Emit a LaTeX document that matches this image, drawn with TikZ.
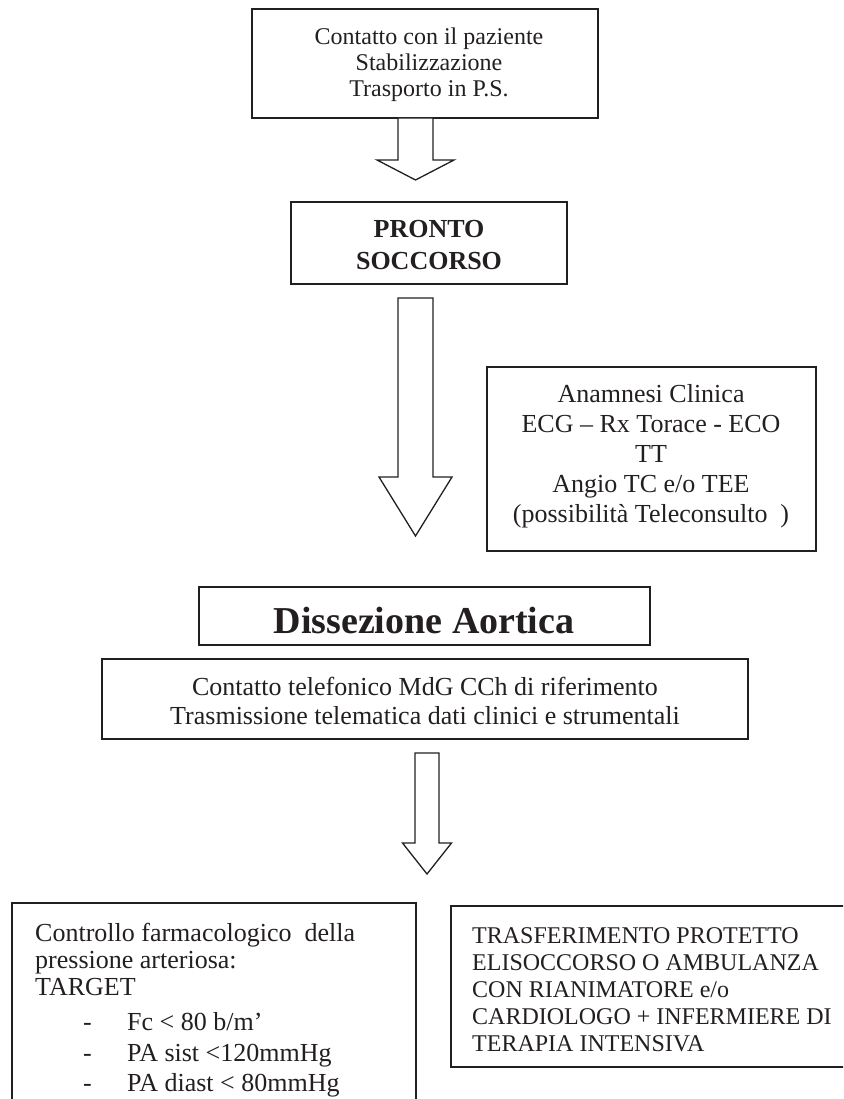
\documentclass[tikz,border=0pt]{standalone}
\usepackage{fontspec}
\setmainfont{Liberation Serif}
\definecolor{ink}{HTML}{231F20}
\newcommand\blockarrow[5]{%
  \draw[barrow] (#1) ++(-#2,0) -- ++(0,#3) -- ++(-#4,0) -- ++({#2+#4},#5) -- ++({#2+#4},-#5) -- ++(-#4,0) -- ++(0,-#3) -- cycle;}
\begin{document}
\begin{tikzpicture}[x=1pt,y=-1pt,
  box/.style={draw=ink, line width=1.8pt, inner sep=0pt, rectangle},
  txt/.style={text=ink, inner sep=0pt, align=center},
  ltxt/.style={text=ink, inner sep=0pt, anchor=base west},
  barrow/.style={draw=ink, line width=1.3pt, line join=miter, fill=white}]
\useasboundingbox (0,0) rectangle (843,1099);
\clip (0,0) rectangle (843,1099);

% boxes
\node[box, minimum width=346pt, minimum height=109pt] (b1) at (425,63.5) {};
\node[txt, font=\fontsize{24}{26}\selectfont] (t1) at (429,65) {Contatto con il paziente\\Stabilizzazione\\Trasporto in P.S.};

\node[box, minimum width=276pt, minimum height=82pt] (b2) at (429,243) {};
\node[txt, font=\fontsize{26}{32}\bfseries] (t2) at (429,245) {PRONTO\\SOCCORSO};

\node[box, minimum width=329pt, minimum height=184pt] (b3) at (651.5,459) {};
\node[txt, font=\fontsize{26}{30}\selectfont] (t3) at (651,456) {Anamnesi Clinica\\ECG – Rx Torace - ECO\\TT\\Angio TC e/o TEE\\(possibilità Teleconsulto~ )};

\node[box, minimum width=451pt, minimum height=58pt] (b4) at (424.5,616) {};
\node[txt, font=\fontsize{38}{44}\bfseries] (t4) at (424,620) {Dissezione Aortica};

\node[box, minimum width=646pt, minimum height=80pt] (b5) at (425,699) {};
\node[txt, font=\fontsize{26}{29}\selectfont] (t5) at (425,701) {Contatto telefonico MdG CCh di riferimento\\Trasmissione telematica dati clinici e strumentali};

\node[box, minimum width=404pt, minimum height=217pt] (b6) at (214,1011.5) {};
\begin{scope}[every node/.style={ltxt, font=\fontsize{26}{29}\selectfont}]
\node (l1) at (35,941) {Controllo farmacologico~ della};
\node (l2) at (35,968) {pressione arteriosa:};
\node (l3) at (35,995) {TARGET};
\node (l4) at (83,1030) {\makebox[44pt][l]{-}Fc < 80 b/m’};
\node (l5) at (83,1061) {\makebox[44pt][l]{-}PA sist <120mmHg};
\node (l6) at (83,1091) {\makebox[44pt][l]{-}PA diast < 80mmHg};
\end{scope}

\node[box, minimum width=409pt, minimum height=161pt] (b7) at (655.5,986.5) {};
\begin{scope}[every node/.style={ltxt, font=\fontsize{24}{26}\selectfont}]
\node (r1) at (472,943) {TRASFERIMENTO PROTETTO};
\node (r2) at (472,970) {ELISOCCORSO O AMBULANZA};
\node (r3) at (472,997) {CON RIANIMATORE e/o};
\node (r4) at (472,1024) {CARDIOLOGO + INFERMIERE DI};
\node (r5) at (472,1051) {TERAPIA INTENSIVA};
\end{scope}

% block arrows
\coordinate (a1) at (415.5,118);
\coordinate (a2) at (415.5,298);
\coordinate (a3) at (427,753);
\blockarrow{a1}{17.5}{42}{21}{20}
\blockarrow{a2}{17.5}{179}{19}{59}
\blockarrow{a3}{12}{90}{12.5}{31}
\end{tikzpicture}
\end{document}
